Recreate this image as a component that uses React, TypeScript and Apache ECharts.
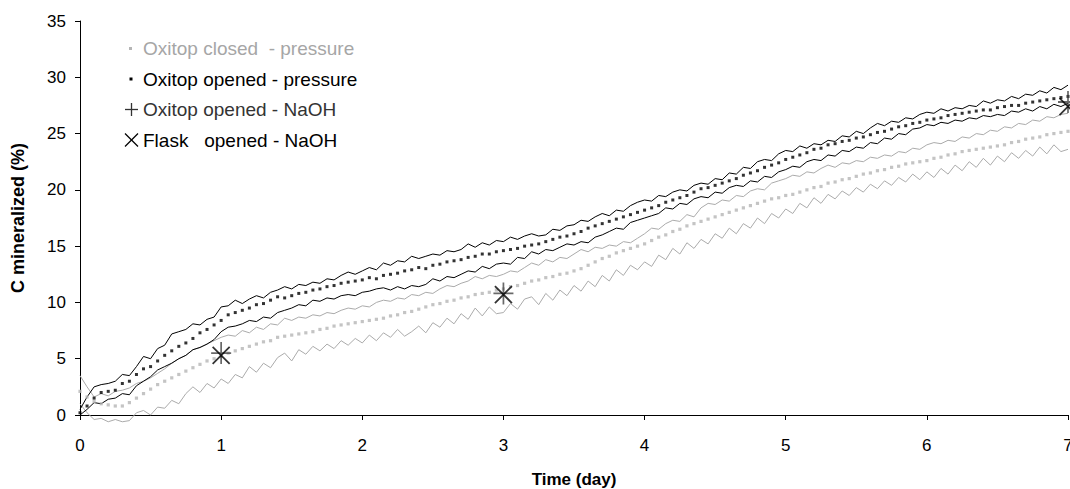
import React, { useEffect, useRef } from "react";
import * as echarts from "echarts";

// readings every 0.05 day, from day 0 to day 7 (141 readings)
const readingStepDays = 0.05;

const xTickDays = [0, 1, 2, 3, 4, 5, 6, 7];

// Oxitop opened - pressure (mean and +/- bounds)
const openedUpper = [
  0.5, 1.6, 2.5, 2.7, 2.8, 3.0, 3.6, 3.5, 4.3, 5.2, 5.0, 5.9, 6.2, 7.2, 7.4, 7.6, 8.1, 8.0, 8.5, 8.7,
  9.6, 9.7, 10.2, 9.9, 10.3, 10.6, 10.4, 10.9, 11.1, 11.4, 11.2, 11.6, 11.5, 11.8, 11.7, 12.1, 12.0, 12.4, 12.7, 12.5,
  12.8, 13.1, 12.9, 13.5, 13.3, 13.7, 13.6, 14.1, 13.9, 14.1, 14.3, 14.2, 14.6, 14.5, 14.7, 15.2, 14.9, 15.3, 15.1, 15.5,
  15.4, 15.8, 15.6, 15.9, 16.1, 15.9, 16.0, 16.5, 16.4, 16.8, 16.9, 17.3, 17.2, 17.6, 17.9, 17.7, 18.2, 18.1, 18.6, 18.9,
  19.1, 19.0, 19.5, 19.4, 19.8, 20.0, 19.9, 20.4, 20.6, 20.5, 21.0, 20.9, 21.5, 21.4, 22.0, 21.9, 22.5, 22.7, 22.6, 23.2,
  23.5, 23.4, 23.9, 23.7, 24.1, 24.0, 24.4, 24.3, 24.8, 24.7, 25.2, 25.0, 25.5, 25.9, 25.7, 26.1, 26.0, 26.4, 26.3, 26.7,
  26.9, 26.8, 27.2, 27.0, 27.3, 27.2, 27.5, 27.4, 27.9, 27.7, 28.0, 27.9, 28.3, 28.1, 28.5, 28.4, 28.8, 28.6, 29.1, 28.9,
  29.3,
];
const openedMean = [
  0.2, 0.8, 1.5, 2.0, 2.1, 2.2, 2.8, 3.0, 3.6, 4.1, 4.3, 4.8, 5.3, 5.7, 6.1, 6.4, 6.8, 7.3, 7.6, 8.0,
  8.4, 8.9, 9.1, 9.3, 9.5, 9.8, 9.9, 10.2, 10.5, 10.4, 10.6, 10.8, 10.9, 11.1, 11.2, 11.4, 11.5, 11.7, 11.8, 11.9,
  12.0, 12.2, 12.1, 12.4, 12.5, 12.6, 12.8, 12.9, 13.1, 13.0, 13.3, 13.4, 13.6, 13.7, 13.8, 14.0, 14.1, 14.3, 14.3, 14.5,
  14.6, 14.7, 14.8, 15.0, 15.1, 15.2, 15.4, 15.6, 15.8, 15.9, 16.1, 16.3, 16.6, 16.8, 17.0, 17.2, 17.4, 17.6, 17.8, 18.0,
  18.2, 18.4, 18.6, 18.9, 19.1, 19.3, 19.5, 19.8, 20.1, 20.2, 20.4, 20.6, 20.8, 21.0, 21.3, 21.5, 21.7, 22.0, 22.2, 22.4,
  22.7, 22.9, 23.1, 23.3, 23.6, 23.7, 24.0, 24.1, 24.3, 24.4, 24.6, 24.7, 24.9, 25.1, 25.2, 25.4, 25.6, 25.7, 25.9, 26.0,
  26.2, 26.3, 26.4, 26.6, 26.7, 26.8, 26.9, 27.0, 27.1, 27.1, 27.3, 27.4, 27.5, 27.5, 27.7, 27.8, 27.9, 28.0, 28.1, 28.2,
  28.3,
];
const openedLower = [
  0.0, 0.5, 1.1, 1.0, 1.4, 1.5, 1.9, 1.8, 2.6, 3.0, 3.4, 4.0, 4.3, 4.6, 5.0, 5.3, 5.8, 6.0, 6.3, 6.7,
  7.4, 7.8, 7.9, 8.1, 8.4, 8.3, 8.7, 8.6, 9.1, 9.3, 9.5, 9.8, 9.7, 10.2, 10.1, 10.4, 10.3, 10.6, 10.7, 10.6,
  10.9, 11.0, 11.2, 11.3, 11.1, 11.4, 11.2, 11.5, 11.4, 11.6, 12.1, 11.9, 12.3, 12.2, 12.5, 12.8, 12.7, 13.2, 13.0, 13.4,
  13.5, 13.4, 14.0, 13.9, 14.5, 14.3, 14.7, 14.6, 14.9, 15.2, 15.1, 15.4, 15.3, 15.8, 16.0, 16.3, 16.6, 16.5, 17.1, 17.3,
  17.5, 17.7, 17.9, 18.4, 18.3, 18.8, 18.7, 19.2, 19.4, 19.3, 19.8, 19.7, 20.2, 20.4, 20.3, 20.8, 20.7, 21.2, 21.1, 21.6,
  21.8, 22.1, 22.0, 22.5, 22.7, 22.6, 23.1, 23.0, 23.5, 23.4, 23.8, 23.7, 24.2, 24.1, 24.6, 24.5, 25.0, 24.9, 25.4, 25.5,
  25.8, 25.7, 26.0, 25.9, 26.2, 26.1, 26.4, 26.3, 26.6, 26.5, 26.7, 26.6, 27.0, 26.9, 27.2, 27.0, 27.4, 27.2, 27.6, 27.4,
  27.7,
];

// Oxitop closed - pressure (mean and +/- bounds)
const closedUpper = [
  3.5, 2.5, 1.6, 1.9, 1.7, 2.1, 2.2, 2.4, 2.8, 3.0, 3.3, 3.7, 4.1, 4.6, 5.0, 5.3, 5.8, 6.0, 6.3, 6.6,
  6.9, 7.1, 7.0, 7.5, 7.3, 7.8, 7.6, 8.1, 8.0, 8.6, 8.4, 8.7, 8.6, 8.9, 8.8, 9.1, 9.0, 9.3, 9.5, 9.4,
  9.7, 9.6, 10.0, 10.2, 10.1, 10.4, 10.3, 10.7, 10.6, 10.9, 10.8, 11.2, 11.5, 11.4, 11.7, 11.9, 12.3, 12.1, 12.4, 12.3,
  12.5, 12.8, 12.7, 13.1, 13.5, 13.3, 13.8, 13.6, 14.0, 13.9, 14.3, 14.7, 14.5, 14.9, 14.8, 15.1, 15.0, 15.4, 15.3, 15.7,
  16.1, 16.6, 16.5, 17.0, 17.3, 17.2, 17.8, 17.6, 18.4, 18.8, 18.7, 19.1, 19.0, 19.5, 19.4, 19.9, 20.1, 20.0, 20.6, 20.8,
  21.0, 21.3, 21.2, 21.6, 21.5, 21.9, 22.2, 22.0, 22.4, 22.3, 22.6, 22.5, 22.9, 22.8, 23.1, 23.0, 23.4, 23.3, 23.7, 23.6,
  24.0, 24.2, 24.1, 24.4, 24.3, 24.7, 24.6, 25.0, 24.9, 25.3, 25.2, 25.6, 25.5, 25.9, 25.8, 26.2, 26.1, 26.5, 26.4, 26.7,
  26.8,
];
const closedMean = [
  2.1, 1.6, 1.2, 1.0, 0.9, 0.8, 0.8, 1.1, 1.5, 1.9, 2.3, 2.7, 3.0, 3.3, 3.6, 3.9, 4.2, 4.5, 4.8, 5.0,
  5.2, 5.5, 5.7, 5.9, 6.1, 6.3, 6.5, 6.6, 6.9, 7.0, 7.1, 7.2, 7.3, 7.4, 7.6, 7.7, 7.9, 8.0, 8.1, 8.2,
  8.3, 8.4, 8.5, 8.6, 8.8, 8.9, 9.1, 9.2, 9.4, 9.6, 9.8, 9.9, 10.1, 10.2, 10.4, 10.5, 10.7, 10.8, 10.9, 11.1,
  11.2, 11.4, 11.5, 11.7, 11.9, 12.0, 12.2, 12.3, 12.5, 12.6, 12.8, 13.0, 13.3, 13.6, 13.9, 14.1, 14.4, 14.6, 14.8, 15.0,
  15.2, 15.5, 15.8, 16.0, 16.3, 16.5, 16.8, 17.0, 17.2, 17.4, 17.6, 17.8, 18.0, 18.2, 18.4, 18.6, 18.8, 19.0, 19.2, 19.3,
  19.5, 19.6, 19.8, 20.0, 20.2, 20.3, 20.6, 20.7, 20.9, 21.0, 21.2, 21.4, 21.5, 21.7, 21.8, 22.0, 22.1, 22.3, 22.4, 22.5,
  22.6, 22.8, 22.9, 23.1, 23.2, 23.4, 23.5, 23.6, 23.7, 23.8, 23.9, 24.0, 24.2, 24.3, 24.5, 24.6, 24.7, 24.9, 25.0, 25.1,
  25.2,
];
const closedLower = [
  1.0, 0.2, -0.4, -0.3, -0.6, -0.4, -0.6, -0.5, 0.2, 0.4, 0.0, 0.7, 0.6, 1.3, 1.0, 1.9, 2.5, 2.0, 2.8, 2.4,
  3.2, 2.8, 3.6, 3.3, 4.3, 3.8, 4.6, 4.2, 5.1, 5.5, 4.8, 5.8, 5.4, 6.1, 5.7, 6.3, 5.9, 6.6, 6.2, 6.8,
  6.4, 7.1, 6.6, 7.3, 6.9, 7.6, 7.0, 7.4, 7.9, 7.3, 8.2, 7.8, 8.6, 8.1, 9.0, 8.5, 9.5, 8.8, 9.6, 9.0,
  9.1, 9.9, 9.4, 10.3, 10.5, 9.8, 10.8, 10.2, 11.1, 10.6, 11.5, 11.0, 11.9, 11.4, 12.4, 11.9, 12.9, 12.4, 13.3, 12.9,
  13.6, 13.2, 14.2, 13.8, 14.8, 14.3, 15.3, 14.8, 15.6, 15.2, 16.1, 15.7, 16.6, 16.1, 17.0, 16.6, 17.5, 17.0, 17.9, 17.5,
  18.3, 17.9, 18.8, 18.4, 19.3, 18.8, 19.6, 19.2, 19.9, 19.5, 20.2, 19.8, 20.5, 20.1, 20.8, 20.4, 21.1, 20.7, 21.4, 20.9,
  21.6, 21.1, 21.9, 21.4, 22.2, 21.7, 22.5, 22.0, 22.8, 22.2, 23.0, 22.5, 23.3, 22.8, 23.5, 23.0, 23.8, 23.2, 24.0, 23.4,
  23.6,
];

// NaOH titrations
const naohDays = [1, 3, 7];
const oxitopOpenedNaOH = [5.5, 10.8, 27.8];
const flaskOpenedNaOH = [5.3, 10.7, 27.4];

const legendNames = [
  "Oxitop closed  - pressure",
  "Oxitop opened - pressure",
  "Oxitop opened - NaOH",
  "Flask   opened - NaOH",
];

const FONT = '"Liberation Sans", Arial, Helvetica, sans-serif';
const GRAY_LINE = "#ababab";
const GRAY_DOT = "#b5b5b5";

function pairs(values: number[]) {
  return values.map((v, i) => [Number((i * readingStepDays).toFixed(2)), v]);
}

export default function App() {
  const ref = useRef<HTMLDivElement>(null);

  useEffect(() => {
    if (!ref.current) return;
    const chart = echarts.init(ref.current, null, { renderer: "svg" });

    const boundLine = (name: string, data: number[], color: string) => ({
      name,
      type: "line",
      data: pairs(data),
      showSymbol: false,
      symbol: "none",
      clip: false,
      silent: true,
      lineStyle: { width: 1, color },
      z: 2,
    });
    const dotSeries = (name: string, data: number[], color: string, size: number) => ({
      name,
      type: "scatter",
      data: pairs(data),
      symbol: "rect",
      symbolSize: size,
      clip: false,
      silent: true,
      itemStyle: { color },
      z: 3,
    });

    const legendY = [48.5, 79, 109.5, 140];
    const legendTextColors = ["#a6a6a6", "#000000", "#333333", "#000000"];

    chart.setOption({
      animation: false,
      backgroundColor: "#ffffff",
      textStyle: { fontFamily: FONT },
      grid: { left: 80, right: 2, top: 21, bottom: 74, outerBoundsMode: "none" },
      xAxis: {
        type: "value",
        min: 0,
        max: 7,
        interval: 1,
        name: "Time (day)",
        nameLocation: "middle",
        nameGap: 56,
        nameTextStyle: { fontSize: 17, fontWeight: "bold", color: "#000", fontFamily: FONT },
        axisLine: { show: true, onZero: false, lineStyle: { color: "#000", width: 1 } },
        axisTick: { show: true, inside: false, length: 5, lineStyle: { color: "#000" } },
        axisLabel: {
          fontSize: 17,
          color: "#000",
          margin: 22,
          fontFamily: FONT,
          showMaxLabel: true,
          formatter: (v: number) => (xTickDays.includes(v) ? String(v) : ""),
        },
        splitLine: { show: false },
      },
      yAxis: {
        type: "value",
        min: 0,
        max: 35,
        interval: 5,
        name: "C mineralized (%)",
        nameLocation: "middle",
        nameGap: 53,
        nameTextStyle: { fontSize: 18, fontWeight: "bold", color: "#000", fontFamily: FONT },
        axisLine: { show: true, lineStyle: { color: "#000", width: 1 } },
        axisTick: { show: true, inside: false, length: 5, lineStyle: { color: "#000" } },
        axisLabel: { fontSize: 17, color: "#000", margin: 14, fontFamily: FONT },
        splitLine: { show: false },
      },
      series: [
        boundLine("Oxitop closed - upper", closedUpper, GRAY_LINE),
        boundLine("Oxitop closed - lower", closedLower, GRAY_LINE),
        dotSeries(legendNames[0], closedMean, GRAY_DOT, 3.2),
        boundLine("Oxitop opened - upper", openedUpper, "#000000"),
        boundLine("Oxitop opened - lower", openedLower, "#000000"),
        dotSeries(legendNames[1], openedMean, "#000000", 3),
        {
          name: legendNames[2],
          type: "scatter",
          data: naohDays.map((d, i) => [d, oxitopOpenedNaOH[i]]),
          symbol: "path://M0,5L10,5M5,0L5,10",
          symbolSize: [20, 22],
          clip: false,
          itemStyle: { color: "none", borderColor: "#444444", borderWidth: 1.8 },
          z: 5,
        },
        {
          name: legendNames[3],
          type: "scatter",
          data: naohDays.map((d, i) => [d, flaskOpenedNaOH[i]]),
          symbol: "path://M0,0L10,10M10,0L0,10",
          symbolSize: [17, 17],
          clip: false,
          itemStyle: { color: "none", borderColor: "#000000", borderWidth: 1.8 },
          z: 6,
        },
      ],
      graphic: [
        { type: "rect", shape: { x: 129, y: legendY[0] - 1.5, width: 3, height: 3 }, style: { fill: GRAY_DOT } },
        { type: "rect", shape: { x: 129.5, y: legendY[1] - 1.5, width: 3, height: 3 }, style: { fill: "#000" } },
        { type: "line", shape: { x1: 125, y1: legendY[2], x2: 138, y2: legendY[2] }, style: { stroke: "#333", lineWidth: 1.3 } },
        { type: "line", shape: { x1: 131.5, y1: legendY[2] - 6.5, x2: 131.5, y2: legendY[2] + 6.5 }, style: { stroke: "#333", lineWidth: 1.3 } },
        { type: "line", shape: { x1: 125, y1: legendY[3] - 6.5, x2: 138, y2: legendY[3] + 6.5 }, style: { stroke: "#000", lineWidth: 1.3 } },
        { type: "line", shape: { x1: 125, y1: legendY[3] + 6.5, x2: 138, y2: legendY[3] - 6.5 }, style: { stroke: "#000", lineWidth: 1.3 } },
        ...legendNames.map((t, i) => ({
          type: "text",
          x: 143,
          y: legendY[i],
          style: {
            text: t,
            fill: legendTextColors[i],
            font: `19px ${FONT}`,
            verticalAlign: "middle",
            align: "left",
          },
        })),
      ],
    });

    return () => chart.dispose();
  }, []);

  return (
    <div
      ref={ref}
      style={{ position: "fixed", left: 0, top: 0, width: 1070, height: 489, background: "#fff" }}
    />
  );
}
